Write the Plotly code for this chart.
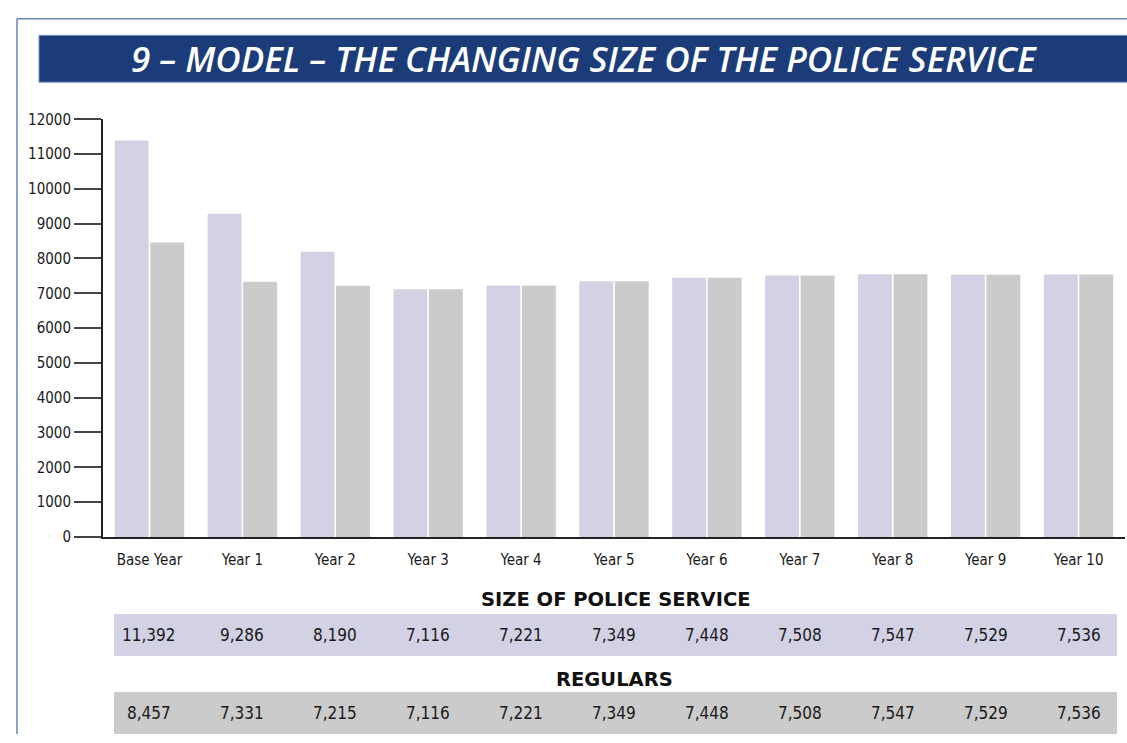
import plotly.graph_objects as go

categories = ["Base Year", "Year 1", "Year 2", "Year 3", "Year 4", "Year 5",
              "Year 6", "Year 7", "Year 8", "Year 9", "Year 10"]
size_of_service = [11392, 9286, 8190, 7116, 7221, 7349, 7448, 7508, 7547, 7529, 7536]
regulars = [8457, 7331, 7215, 7116, 7221, 7349, 7448, 7508, 7547, 7529, 7536]
y_ticks = list(range(0, 12001, 1000))

title = "9 – MODEL – THE CHANGING SIZE OF THE POLICE SERVICE"
row1_title = "SIZE OF POLICE SERVICE"
row2_title = "REGULARS"

LAV = "#d3d2e4"
GRY = "#cbcbcb"
NAVY = "#1b3c78"
W, H = 1127, 743

def px(x):
    return x / W

def py(y):
    return (H - y) / H

NARROW = "DejaVu Sans Condensed, Liberation Sans Narrow, sans-serif"
BOLD = "DejaVu Sans, sans-serif"

fig = go.Figure()
fig.add_trace(go.Bar(x=categories, y=size_of_service, marker_color=LAV,
                     marker_line_width=0, name=row1_title, hoverinfo="skip"))
fig.add_trace(go.Bar(x=categories, y=regulars, marker_color=GRY,
                     marker_line_width=0, name=row2_title, hoverinfo="skip"))

shapes = [
    dict(type="line", xref="paper", yref="paper", x0=px(17), x1=px(17), y0=0, y1=py(10),
         line=dict(color="#6a84b6", width=1.5)),
    dict(type="line", xref="paper", yref="paper", x0=px(17), x1=1, y0=py(10), y1=py(10),
         line=dict(color="#6a84b6", width=1.5)),
    dict(type="rect", xref="paper", yref="paper", x0=px(39), x1=1.01, y0=py(75), y1=py(27),
         fillcolor=NAVY, line=dict(color="#7d94c2", width=1), layer="below"),
    dict(type="rect", xref="paper", yref="paper", x0=px(114), x1=px(1117), y0=py(663), y1=py(620),
         fillcolor=LAV, line=dict(width=0), layer="below"),
    dict(type="rect", xref="paper", yref="paper", x0=px(114), x1=px(1117), y0=py(743), y1=py(700),
         fillcolor=GRY, line=dict(width=0), layer="below"),
]

annotations = [
    dict(text=f"<i>{title}</i>", xref="paper", yref="paper", x=px(584), y=py(51),
         showarrow=False,
         font=dict(family="Open Sans, sans-serif", size=35, color="white", weight=600),
         xanchor="center", yanchor="middle"),
    dict(text=f"<b>{row1_title}</b>", xref="paper", yref="paper", x=px(616), y=py(605),
         showarrow=False, font=dict(family=BOLD, size=19.5, color="#111"),
         xanchor="center", yanchor="middle"),
    dict(text=f"<b>{row2_title}</b>", xref="paper", yref="paper", x=px(614), y=py(687),
         showarrow=False, font=dict(family=BOLD, size=19.5, color="#111"),
         xanchor="center", yanchor="middle"),
]
for c, v in zip(categories, size_of_service):
    annotations.append(dict(text=f"{v:,}", xref="x", yref="paper", x=c, y=py(641.5),
                            showarrow=False, xanchor="center", yanchor="middle",
                            font=dict(family=NARROW, size=17, color="#1a1a1a")))
for c, v in zip(categories, regulars):
    annotations.append(dict(text=f"{v:,}", xref="x", yref="paper", x=c, y=py(721.5),
                            showarrow=False, xanchor="center", yanchor="middle",
                            font=dict(family=NARROW, size=17, color="#1a1a1a")))

fig.update_layout(
    width=W, height=H,
    margin=dict(l=0, r=0, t=0, b=0),
    paper_bgcolor="white", plot_bgcolor="white",
    barmode="group", bargap=0.236, bargroupgap=0.045,
    showlegend=False,
    shapes=shapes, annotations=annotations,
    xaxis=dict(domain=[px(103), px(1125)], showline=True, linecolor="#222", linewidth=2,
               showgrid=False, ticks="", zeroline=False, ticklabelstandoff=8,
               tickfont=dict(family=NARROW, size=15, color="#1a1a1a")),
    yaxis=dict(domain=[py(541), py(113)], range=[0, 12000], tickvals=y_ticks,
               tickformat="d",
               showline=True, linecolor="#222", linewidth=2, showgrid=False,
               zeroline=False, ticks="outside", ticklen=27, tickwidth=2, tickcolor="#444",
               tickfont=dict(family=NARROW, size=15, color="#1a1a1a")),
)

fig.write_html("out.html", config={"displayModeBar": False})

css = ("<style>html,body{margin:0;padding:0;width:1127px;height:743px;overflow:hidden;}"
       ".plotly-graph-div{position:absolute !important;top:0;left:0;}</style>")
with open("out.html", "r", encoding="utf-8") as f:
    html = f.read()
html = html.replace("<head>", "<head>" + css, 1)
with open("out.html", "w", encoding="utf-8") as f:
    f.write(html)
